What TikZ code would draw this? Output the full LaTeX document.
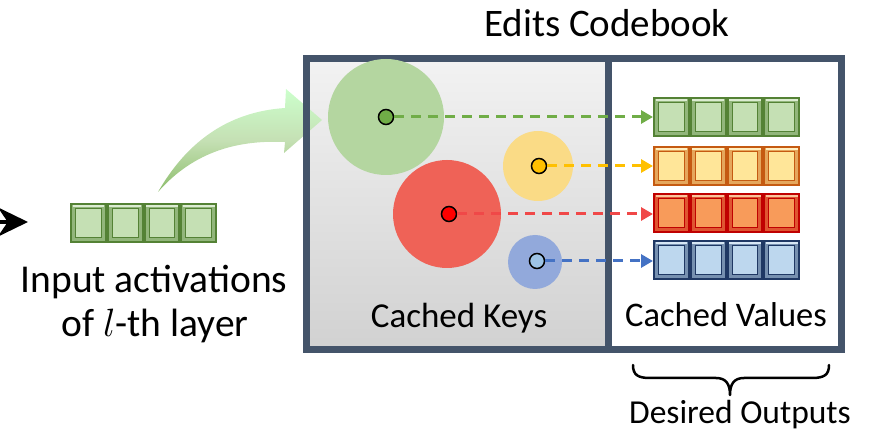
\documentclass[tikz,border=0pt]{standalone}
\usepackage{fix-cm}
\usepackage{fontspec}
\setmainfont{Carlito}
\usetikzlibrary{arrows.meta,positioning}

\tikzset{
  keyball/.style={circle, inner sep=0, draw=none},
  keydot/.style={circle, inner sep=0, minimum size=15pt, draw=black, line width=1.5pt},
  lookup/.style={line width=3pt, dash pattern=on 10pt off 7pt, line cap=butt, -{Triangle[length=12pt,width=13pt]}},
  lbl/.style={inner sep=0, outer sep=0, anchor=base, font=\fontsize{35}{40}\selectfont},
}

\begin{document}
\begin{tikzpicture}[x=1pt,y=-1pt,line cap=rect]
	\definecolor{framecol}{RGB}{68, 84, 106}
	\definecolor{greendark}{RGB}{84, 130, 53}
	\definecolor{greenlite}{RGB}{197, 224, 180}
	\definecolor{orangedark}{RGB}{197, 90, 17}
	\definecolor{yellowlite}{RGB}{255, 230, 153}
	\definecolor{reddark}{RGB}{192, 0, 0}
	\definecolor{orangelite}{RGB}{248, 155, 90}
	\definecolor{navydark}{RGB}{31, 56, 100}
	\definecolor{bluelite}{RGB}{189, 215, 238}
	\definecolor{ballg}{RGB}{180, 214, 160}
	\definecolor{bally}{RGB}{250, 219, 134}
	\definecolor{ballr}{RGB}{239, 98, 87}
	\definecolor{ballb}{RGB}{146, 169, 219}
	\definecolor{dotg}{RGB}{112, 173, 71}
	\definecolor{doty}{RGB}{255, 192, 0}
	\definecolor{dotr}{RGB}{255, 0, 0}
	\definecolor{dotb}{RGB}{157, 195, 230}
	\definecolor{arrowr}{RGB}{240, 72, 72}
	\definecolor{arrowb}{RGB}{68, 114, 196}
	% one row of four bevelled cells: name, left, top, dark, light
	\def\cellrow#1#2#3#4#5{
		\node[inner sep=0, outer sep=0, fill=#4, minimum width=147pt, minimum height=40pt, anchor=north west] (#1) at (#2,#3) {};
		\foreach \k in {0,...,3} {
			\fill[#5!55!#4] ({#2+\k*36.75+2},{#3+2}) rectangle ({#2+\k*36.75+34.75},{#3+38});
			\fill[#5!60!white] ({#2+\k*36.75+2.5},{#3+2.5}) rectangle ({#2+\k*36.75+34.25},{#3+4});
			\draw[line width=0.8pt, #4, fill=#5] ({#2+\k*36.75+5.5},{#3+5.5}) rectangle ({#2+\k*36.75+31.25},{#3+34.5});
		}
	}
	\useasboundingbox (0,0) rectangle (876,446);
	% incoming arrow at the left edge
	\coordinate (instart) at (-30,222);
	\coordinate (intip) at (28,222);
	\draw[line width=4pt, -{Stealth[length=30pt,width=29pt]}] (instart) -- (intip);
	\cellrow{invec}{70}{203}{greendark}{greenlite}
	\node[lbl, font=\fontsize{39.5}{44}\selectfont] (inlbl) at (154,293) {Input activations};
	\node[lbl, font=\fontsize{39.5}{44}\selectfont] (inlbl2) at (155,337) {of $l$-th layer};
	% codebook background
	\shade[top color=black!5, bottom color=black!18] (306.5,58.5) rectangle (608.5,349.5);
	% curved arrow into the codebook
	\shade[top color=green!20!white, bottom color=dotg!80!white, middle color=greenlite]
		(158,192) .. controls (185,145) and (225,112) .. (285,108) -- (286,89) -- (322,120) -- (284,153) -- (285,142)
		.. controls (240,140) and (195,150) .. (158,192) -- cycle;
	% codebook frames
	\draw[line width=7pt, framecol] (306.5,58.5) rectangle (608.5,349.5);
	\draw[line width=7pt, framecol] (608.5,58.5) rectangle (841.5,349.5);
	\node[lbl, font=\fontsize{39}{44}\selectfont] (title) at (607,37) {Edits Codebook};
	% cached keys
	\node[keyball, fill=ballg, minimum size=116pt] (gkey) at (386,117) {};
	\node[keyball, fill=bally, minimum size=70pt] (ykey) at (538,166) {};
	\node[keyball, fill=ballr, minimum size=108pt] (rkey) at (447,214) {};
	\node[keyball, fill=ballb, minimum size=54pt] (bkey) at (535,262) {};
	\node[keydot, fill=dotg] (gdot) at (386,117) {};
	\node[keydot, fill=doty] (ydot) at (539,166) {};
	\node[keydot, fill=dotr] (rdot) at (449,214) {};
	\node[keydot, fill=dotb] (bdot) at (537,261) {};
	% cached values
	\cellrow{gval}{653}{97}{greendark}{greenlite}
	\cellrow{yval}{653}{146}{orangedark}{yellowlite}
	\cellrow{rval}{653}{193}{reddark}{orangelite}
	\cellrow{bval}{653}{240}{navydark}{bluelite}
	\draw[lookup, dotg] (gdot) -- (gdot -| gval.west);
	\draw[lookup, doty] (ydot) -- (ydot -| yval.west);
	\draw[lookup, arrowr] (rdot) -- (rdot -| rval.west);
	\draw[lookup, arrowb] (bdot) -- (bdot -| bval.west);
	\node[lbl] (keylbl) at (459,328) {Cached Keys};
	\node[lbl, font=\fontsize{34.5}{40}\selectfont] (vallbl) at (726,327) {Cached Values};
	% brace under the values
	\draw[line width=2.5pt, line cap=round, line join=round]
		(633,365) .. controls (633,375) and (638,378) .. (650,378) -- (716,378)
		.. controls (726,378) and (730,384) .. (730,395)
		.. controls (730,384) and (734,378) .. (744,378) -- (812,378)
		.. controls (824,378) and (829,375) .. (829,365);
	\node[lbl, font=\fontsize{33.5}{40}\selectfont] (outlbl) at (740,423) {Desired Outputs};
\end{tikzpicture}
\end{document}
